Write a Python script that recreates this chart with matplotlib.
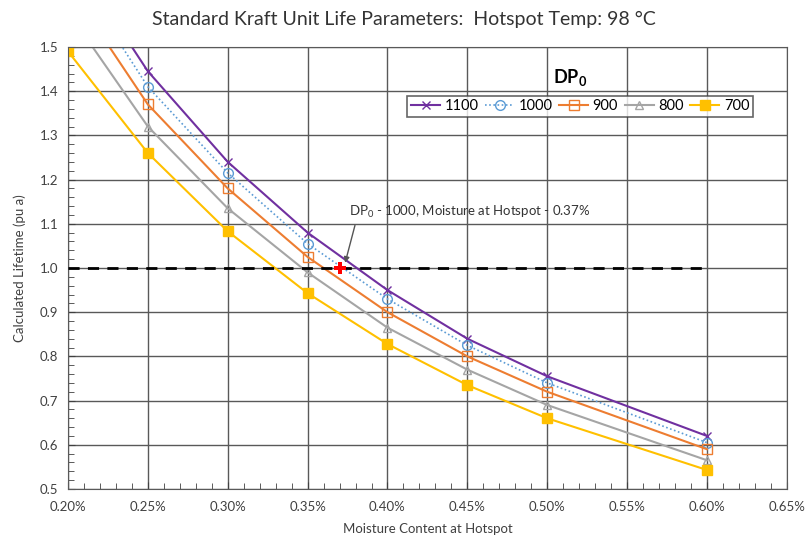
import matplotlib.pyplot as plt
from matplotlib.ticker import MultipleLocator, FuncFormatter

plt.rcParams['font.family'] = ['Lato', 'DejaVu Sans']
plt.rcParams['mathtext.fontset'] = 'custom'
plt.rcParams['mathtext.rm'] = 'Lato'
plt.rcParams['mathtext.bf'] = 'Lato:bold'

moisture = [0.20, 0.25, 0.30, 0.35, 0.40, 0.45, 0.50, 0.60]
life_1100 = [1.72, 1.445, 1.24, 1.08, 0.95, 0.84, 0.755, 0.62]
life_1000 = [1.69, 1.41, 1.215, 1.055, 0.93, 0.825, 0.74, 0.605]
life_900 = [1.64, 1.37, 1.18, 1.025, 0.90, 0.80, 0.72, 0.59]
life_800 = [1.58, 1.32, 1.135, 0.99, 0.865, 0.77, 0.69, 0.565]
life_700 = [1.49, 1.26, 1.083, 0.943, 0.828, 0.735, 0.66, 0.543]

target_moisture = 0.37
target_life = 1.0

fig = plt.figure(figsize=(8.07, 5.46), dpi=100)
ax = fig.add_axes([0.0843, 0.1044, 0.8907, 0.8095])

ax.plot(moisture, life_1100, color='#7030A0', marker='x', ms=6, lw=1.5, label='1100')
ax.plot(moisture, life_1000, color='#5B9BD5', marker='o', ms=7, mfc='none', lw=1.2,
        ls=(0, (1, 1.5)), label='1000')
ax.plot(moisture, life_900, color='#ED7D31', marker='s', ms=7, mfc='none', lw=1.5, label='900')
ax.plot(moisture, life_800, color='#A5A5A5', marker='^', ms=6, mfc='none', lw=1.5, label='800')
ax.plot(moisture, life_700, color='#FFC000', marker='s', ms=7, lw=1.5, label='700')

ax.plot([0.20, 0.60], [1.0, 1.0], color='black', lw=2, ls=(0, (4, 3)), zorder=3)
ax.plot(target_moisture, target_life, marker='P', color='red', ms=9, mew=0, zorder=5)
ax.annotate('DP$_0$ - 1000, Moisture at Hotspot - 0.37%',
            xy=(0.3735, 1.012), xytext=(0.376, 1.127), fontsize=9.5, color='#333333',
            arrowprops=dict(arrowstyle='-|>', color='#555555', lw=1, mutation_scale=8,
                            shrinkA=2, shrinkB=0, relpos=(0.03, 0.0)),
            ha='left', va='center')

ax.set_xlim(0.20, 0.65)
ax.set_ylim(0.5, 1.5)
ax.xaxis.set_major_locator(MultipleLocator(0.05))
ax.xaxis.set_minor_locator(MultipleLocator(0.01))
ax.yaxis.set_major_locator(MultipleLocator(0.1))
ax.yaxis.set_minor_locator(MultipleLocator(0.02))
ax.xaxis.set_major_formatter(FuncFormatter(lambda v, p: f'{v:.2f}%'))
ax.yaxis.set_major_formatter(FuncFormatter(lambda v, p: f'{v:.1f}'))
ax.tick_params(which='both', direction='in', labelsize=9.5, colors='#404040')
ax.tick_params(axis='x', pad=9)
ax.tick_params(axis='y', pad=7)
ax.tick_params(which='major', length=5)
ax.tick_params(which='minor', length=4)
ax.grid(True, which='major', color='#595959', lw=1)
for s in ax.spines.values():
    s.set_color('#595959')

ax.set_xlabel('Moisture Content at Hotspot', fontsize=9.5, color='#404040', labelpad=7)
ax.set_ylabel('Calculated Lifetime (pu a)', fontsize=9.5, color='#404040', labelpad=10)
fig.text(0.5, 0.965, 'Standard Kraft Unit Life Parameters:  Hotspot Temp: 98 °C',
         ha='center', va='center', fontsize=14, color='#333333')

ax.text(0.514, 1.43, r'$\mathbf{DP_0}$', fontsize=13, ha='center', va='center')
leg = ax.legend(ncol=5, loc='upper left', bbox_to_anchor=(0.472, 0.89), fontsize=10.5,
                frameon=True, fancybox=False, edgecolor='#404040', handlelength=2.0,
                columnspacing=0.45, handletextpad=0.3, borderpad=0.25, borderaxespad=0)
leg.get_frame().set_linewidth(1.2)

fig.savefig('out.png', dpi=100)
